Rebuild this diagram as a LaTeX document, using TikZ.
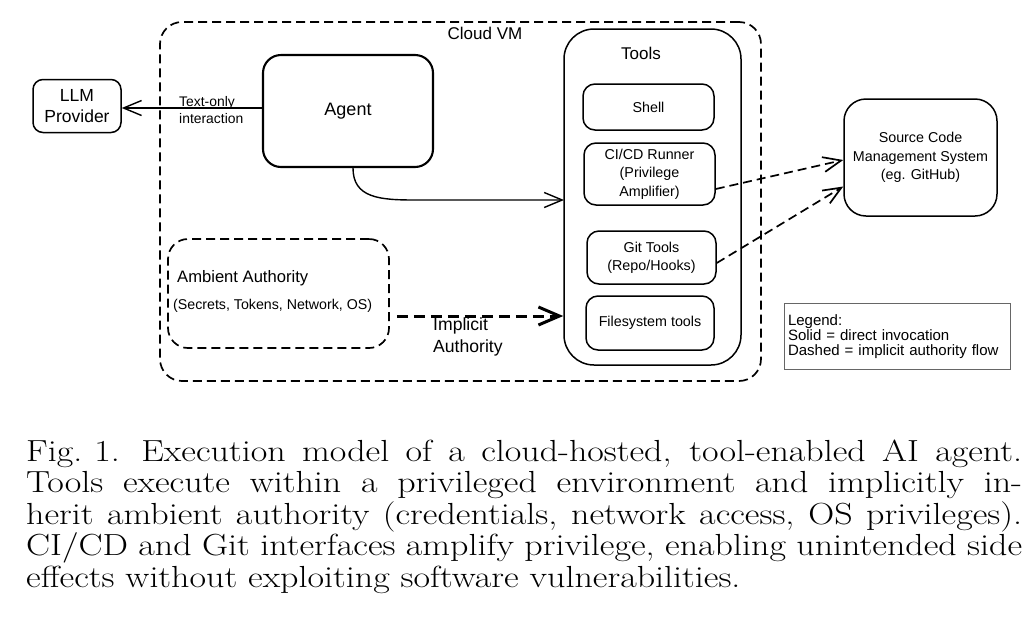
\documentclass[tikz,border=0pt]{standalone}
\usepackage{fontspec}
\usepackage{graphicx}
\setsansfont{Liberation Sans}
\usetikzlibrary{arrows.meta,calc}
\newcommand{\capline}[1]{\scalebox{1.18}[1]{\makebox[844pt][s]{#1}}}
\begin{document}
\begin{tikzpicture}[x=1pt,y=-1pt,
  bx/.style={draw, line width=1.5pt, rounded corners=12pt, inner sep=0pt, align=center,
    font=\sffamily\fontsize{14.3}{18.3}\selectfont},
  dsh/.style={dash pattern=on 9pt off 5pt, line width=1.7pt},
  barb/.style={-{Straight Barb[length=18pt,width=15pt]}},
  lbl/.style={inner sep=0pt, font=\sffamily\fontsize{17}{21}\selectfont},
  captxt/.style={anchor=base west, inner sep=0pt, font=\fontsize{30.5}{33}\selectfont}]
\useasboundingbox (0,0) rectangle (1036,622);

% Cloud VM
\node[draw, dsh, rounded corners=22pt, minimum width=601pt, minimum height=359pt, inner sep=0pt] (cloud) at (460.5,201.5) {};
\node[lbl] (cloudlbl) at (485,33) {Cloud VM};

% LLM provider
\node[bx, minimum width=88pt, minimum height=53pt, rounded corners=10pt,
  font=\sffamily\fontsize{17.5}{21.5}\selectfont] (llm) at (77,106) {LLM\\Provider};

% Agent
\node[bx, line width=2.1pt, minimum width=170pt, minimum height=112pt, rounded corners=18pt,
  font=\sffamily\fontsize{18}{21}\selectfont] (agent) at (348,111) {Agent};

% Tools
\node[bx, minimum width=177pt, minimum height=336pt, rounded corners=30pt] (tools) at (652.5,197) {};
\node[lbl] (toolslbl) at (641,53) {Tools};
\node[bx, minimum width=131pt, minimum height=46pt] (shell) at (648.5,107) {Shell};
\node[bx, minimum width=131pt, minimum height=62pt] (ci) at (649.5,174) {CI/CD Runner\\(Privilege\\Amplifier)};
\node[bx, minimum width=129pt, minimum height=53pt] (git) at (651.5,257.5) {Git Tools\\(Repo/Hooks)};
\node[bx, minimum width=128pt, minimum height=54pt] (fs) at (650,323) {Filesystem tools};

% SCM
\node[bx, minimum width=153pt, minimum height=117pt, rounded corners=22pt] (scm) at (920.5,157.5) {Source Code\\Management System\\(eg. GitHub)};

% Ambient authority
\node[draw, dsh, rounded corners=20pt, minimum width=221pt, minimum height=109pt, inner sep=0pt] (amb) at (278.5,293.5) {};
\node[anchor=west, inner sep=0pt, font=\sffamily\fontsize{16.6}{20}\selectfont] (ambt) at (177,278) {Ambient Authority};
\node[anchor=west, inner sep=0pt, font=\sffamily\fontsize{14.2}{17}\selectfont] (ambs) at (173,306) {(Secrets, Tokens, Network, OS)};

% Legend
\node[draw=black!60, line width=1pt, minimum width=226pt, minimum height=66pt, text width=218pt, inner xsep=4pt,
  align=left, font=\sffamily\fontsize{15}{15.3}\selectfont] (legend) at (897,336.5)
  {Legend:\\Solid = direct invocation\\Dashed = implicit authority flow};

% Connectors
\coordinate (la) at ($(llm.east)+(0,2)$);
\draw[line width=1.4pt, barb] (la -| agent.west) -- (la);
\node[anchor=west, align=left, inner sep=0pt, font=\sffamily\fontsize{13.9}{16.5}\selectfont] (txt) at (179,110) {Text-only\\interaction};

\coordinate (t1) at (564,200);
\draw[line width=1.4pt, barb] ($(agent.south)+(5,0)$) .. controls +(0,30) and +(-35,0) .. (415,200) -- (t1);

\draw[dsh, barb] ($(ci.east)+(0,15)$) -- ($(scm.west)+(0,2.5)$);
\draw[dsh, barb] ($(git.east)+(0,5.5)$) -- ($(scm.west)+(0,29)$);

\coordinate (ia) at ($(amb.east)+(7,22.5)$);
\draw[line width=3pt, dash pattern=on 11pt off 6pt, -{Straight Barb[length=21pt,width=18pt]}] (ia) -- (ia -| tools.west);
\node[anchor=west, align=left, inner sep=0pt, font=\sffamily\fontsize{17.6}{22}\selectfont] (impl) at (433,337) {Implicit\\Authority};

% Caption
\node[captxt] (c1) at (26,461) {\capline{Fig.\hspace{0.33em}1.\hspace{0.6em}Execution model of a cloud-hosted, tool-enabled AI agent.}};
\node[captxt] (c2) at (26,492.5) {\capline{Tools execute within a privileged environment and implicitly in-}};
\node[captxt] (c3) at (26,524) {\capline{herit ambient authority (credentials, network access, OS privileges).}};
\node[captxt] (c4) at (26,555.5) {\capline{CI/CD and Git interfaces amplify privilege, enabling unintended side}};
\node[captxt] (c5) at (26,587) {\scalebox{1.18}[1]{effects without exploiting software vulnerabilities.}};
\end{tikzpicture}
\end{document}
